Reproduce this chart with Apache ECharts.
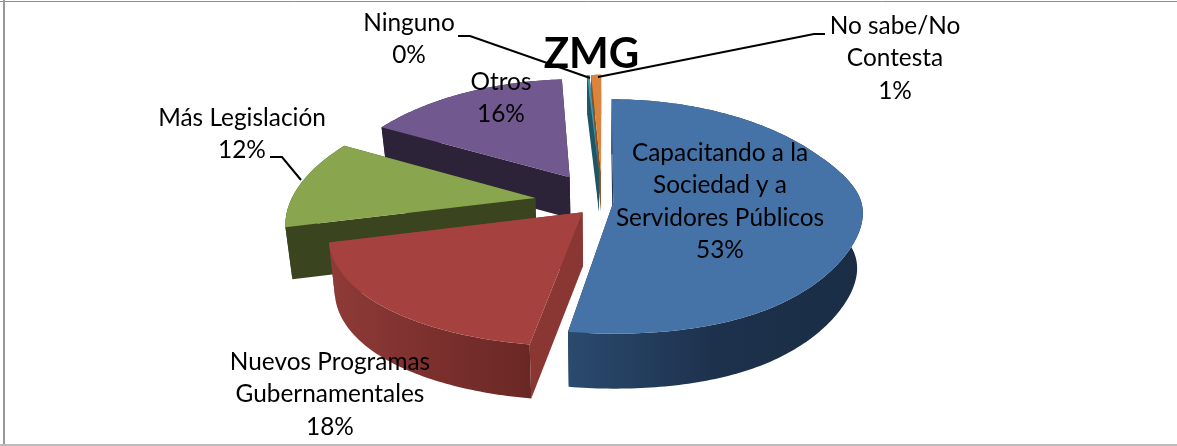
<!DOCTYPE html>
<html><head><meta charset="utf-8">
<style>html,body{margin:0;padding:0;background:#fff}#c{width:1177px;height:446px}</style>
<script src="https://cdn.jsdelivr.net/npm/echarts@6/dist/echarts.min.js"></script>
</head><body><div id="c"></div>
<script>
const chartTitle = 'ZMG';
const categories = ['Capacitando a la\nSociedad y a\nServidores Públicos','Nuevos Programas\nGubernamentales','Más Legislación','Otros','Ninguno','No sabe/No\nContesta'];
const values = [52.55,18.45,12,16,0.2,0.8];

// styling / layout
const topColors = ['#4572A7','#A5423F','#89A54E','#71588F','#4198AF','#DB843D'];
const cutColors = ['#1f3550','#8A3633','#3A451F','#2D2338','#1F5566','#8a5020'];
const wallStops = [['#2A4A6E','#1D314C','#1A2D45'],['#8F3B38','#7C302E','#6A2825'],['#3A451F','#3A451F','#3A451F'],['#2D2338','#2D2338','#2D2338'],['#1F5566','#1F5566','#1F5566'],['#8a5020','#8a5020','#8a5020']];
const explode = [0.044,0.119,0.278,0.26,0.27,0.27];
const depths = [55,54,52,41,40,40];
const labelPos = [[720,153],[330,362],[242,118],[501,82],[409,23],[895,26]];
const leaders = [null,null,[[270,157],[282,157],[301,180]],null,[[458,36],[470,36],[590,78]],[[825,34],[814,34],[598,77]]];
const lineH = 32.5, fontPx = 24.4;
const cx = 602.5, cy = 202, R = 245, A = 115.4, K = 0.12, Kx = 0.18, baseScale = 0.978, warp = 28;

const total = values.reduce((a,b)=>a+b,0);
const cum = []; values.reduce((a,b,i)=>(cum[i]=a,a+b),0);

function proj(u,v){
  const lift = (u>0 && v>-0.5 && v<1) ? warp*u*u*(v+0.5)*(v+0.5)*(1-v) : 0;
  return [cx+R*u/(1-Kx*v), cy+A*v/(1-K*v)-lift];
}
function base(p,d){ return [cx+(p[0]-cx)*baseScale, p[1]+d]; }

function renderItem(params, api){
  const i = params.dataIndex, val = api.value(0);
  const t0 = cum[i]/total*2*Math.PI, t1 = (cum[i]+val)/total*2*Math.PI, m=(t0+t1)/2;
  const ou = explode[i]*Math.sin(m), ov = -explode[i]*Math.cos(m);
  const apex = proj(ou,ov), d = depths[i];
  const n = Math.max(2,Math.ceil((t1-t0)*60));
  const rim = [];
  for(let k=0;k<=n;k++){ const t=t0+(t1-t0)*k/n; rim.push(proj(ou+Math.sin(t),ov-Math.cos(t))); }
  const z = apex[1]-i*0.01+ (i===4?0.05:0);
  const rimB = rim.map(p=>base(p,d));
  const apexB = base(apex,d);
  const xs = rim.map(p=>p[0]);
  const minX = Math.min(...xs), maxX = Math.max(...xs);
  const grad = new echarts.graphic.LinearGradient(minX,0,maxX,0,[
    {offset:0,color:wallStops[i][0]},{offset:.5,color:wallStops[i][1]},{offset:1,color:wallStops[i][2]}],true);
  const poly=(pts,fill,zz)=>({type:'polygon',z2:zz,shape:{points:pts},style:{fill:fill}});
  const kids = [
    poly([apex,rim[0],rimB[0],apexB],cutColors[i],z),
    poly([apex,rim[n],rimB[n],apexB],cutColors[i],z+0.001),
    poly(rim.concat(rimB.slice().reverse()),grad,z+0.002),
    poly([apex].concat(rim),topColors[i],z+0.003)
  ];
  const lines = categories[i].split('\n').concat([Math.round(val/total*100)+'%']);
  lines.forEach((tx,li)=>kids.push({type:'text',z2:1000,style:{text:tx,x:labelPos[i][0],y:labelPos[i][1]+li*lineH,
    align:'center',verticalAlign:'middle',font:fontPx+'px Lato',fill:'#000'}}));
  if(leaders[i]) kids.push({type:'polyline',z2:900,shape:{points:leaders[i]},style:{stroke:'#000',lineWidth:2,fill:null}});
  return {type:'group',children:kids};
}

const chart = echarts.init(document.getElementById('c'),null,{renderer:'canvas'});
chart.setOption({
  animation:false,
  backgroundColor:'#fff',
  title:{text:chartTitle,left:586.5,top:24,textAlign:'center',textStyle:{fontFamily:'Lato',fontWeight:'bold',fontSize:42,color:'#000',lineHeight:50},z:10},
  series:[{type:'custom',coordinateSystem:'none',renderItem:renderItem,data:values.map(v=>[v]),clip:false,silent:true}],
  graphic:[
    {type:'line',shape:{x1:0,y1:1.5,x2:1177,y2:1.5},style:{stroke:'#8c8c8c',lineWidth:1}},
    {type:'line',shape:{x1:4,y1:0,x2:4,y2:446},style:{stroke:'#999',lineWidth:2}},
    {type:'line',shape:{x1:0,y1:445,x2:1177,y2:445},style:{stroke:'#bbb',lineWidth:2}}
  ]
});
</script></body></html>
